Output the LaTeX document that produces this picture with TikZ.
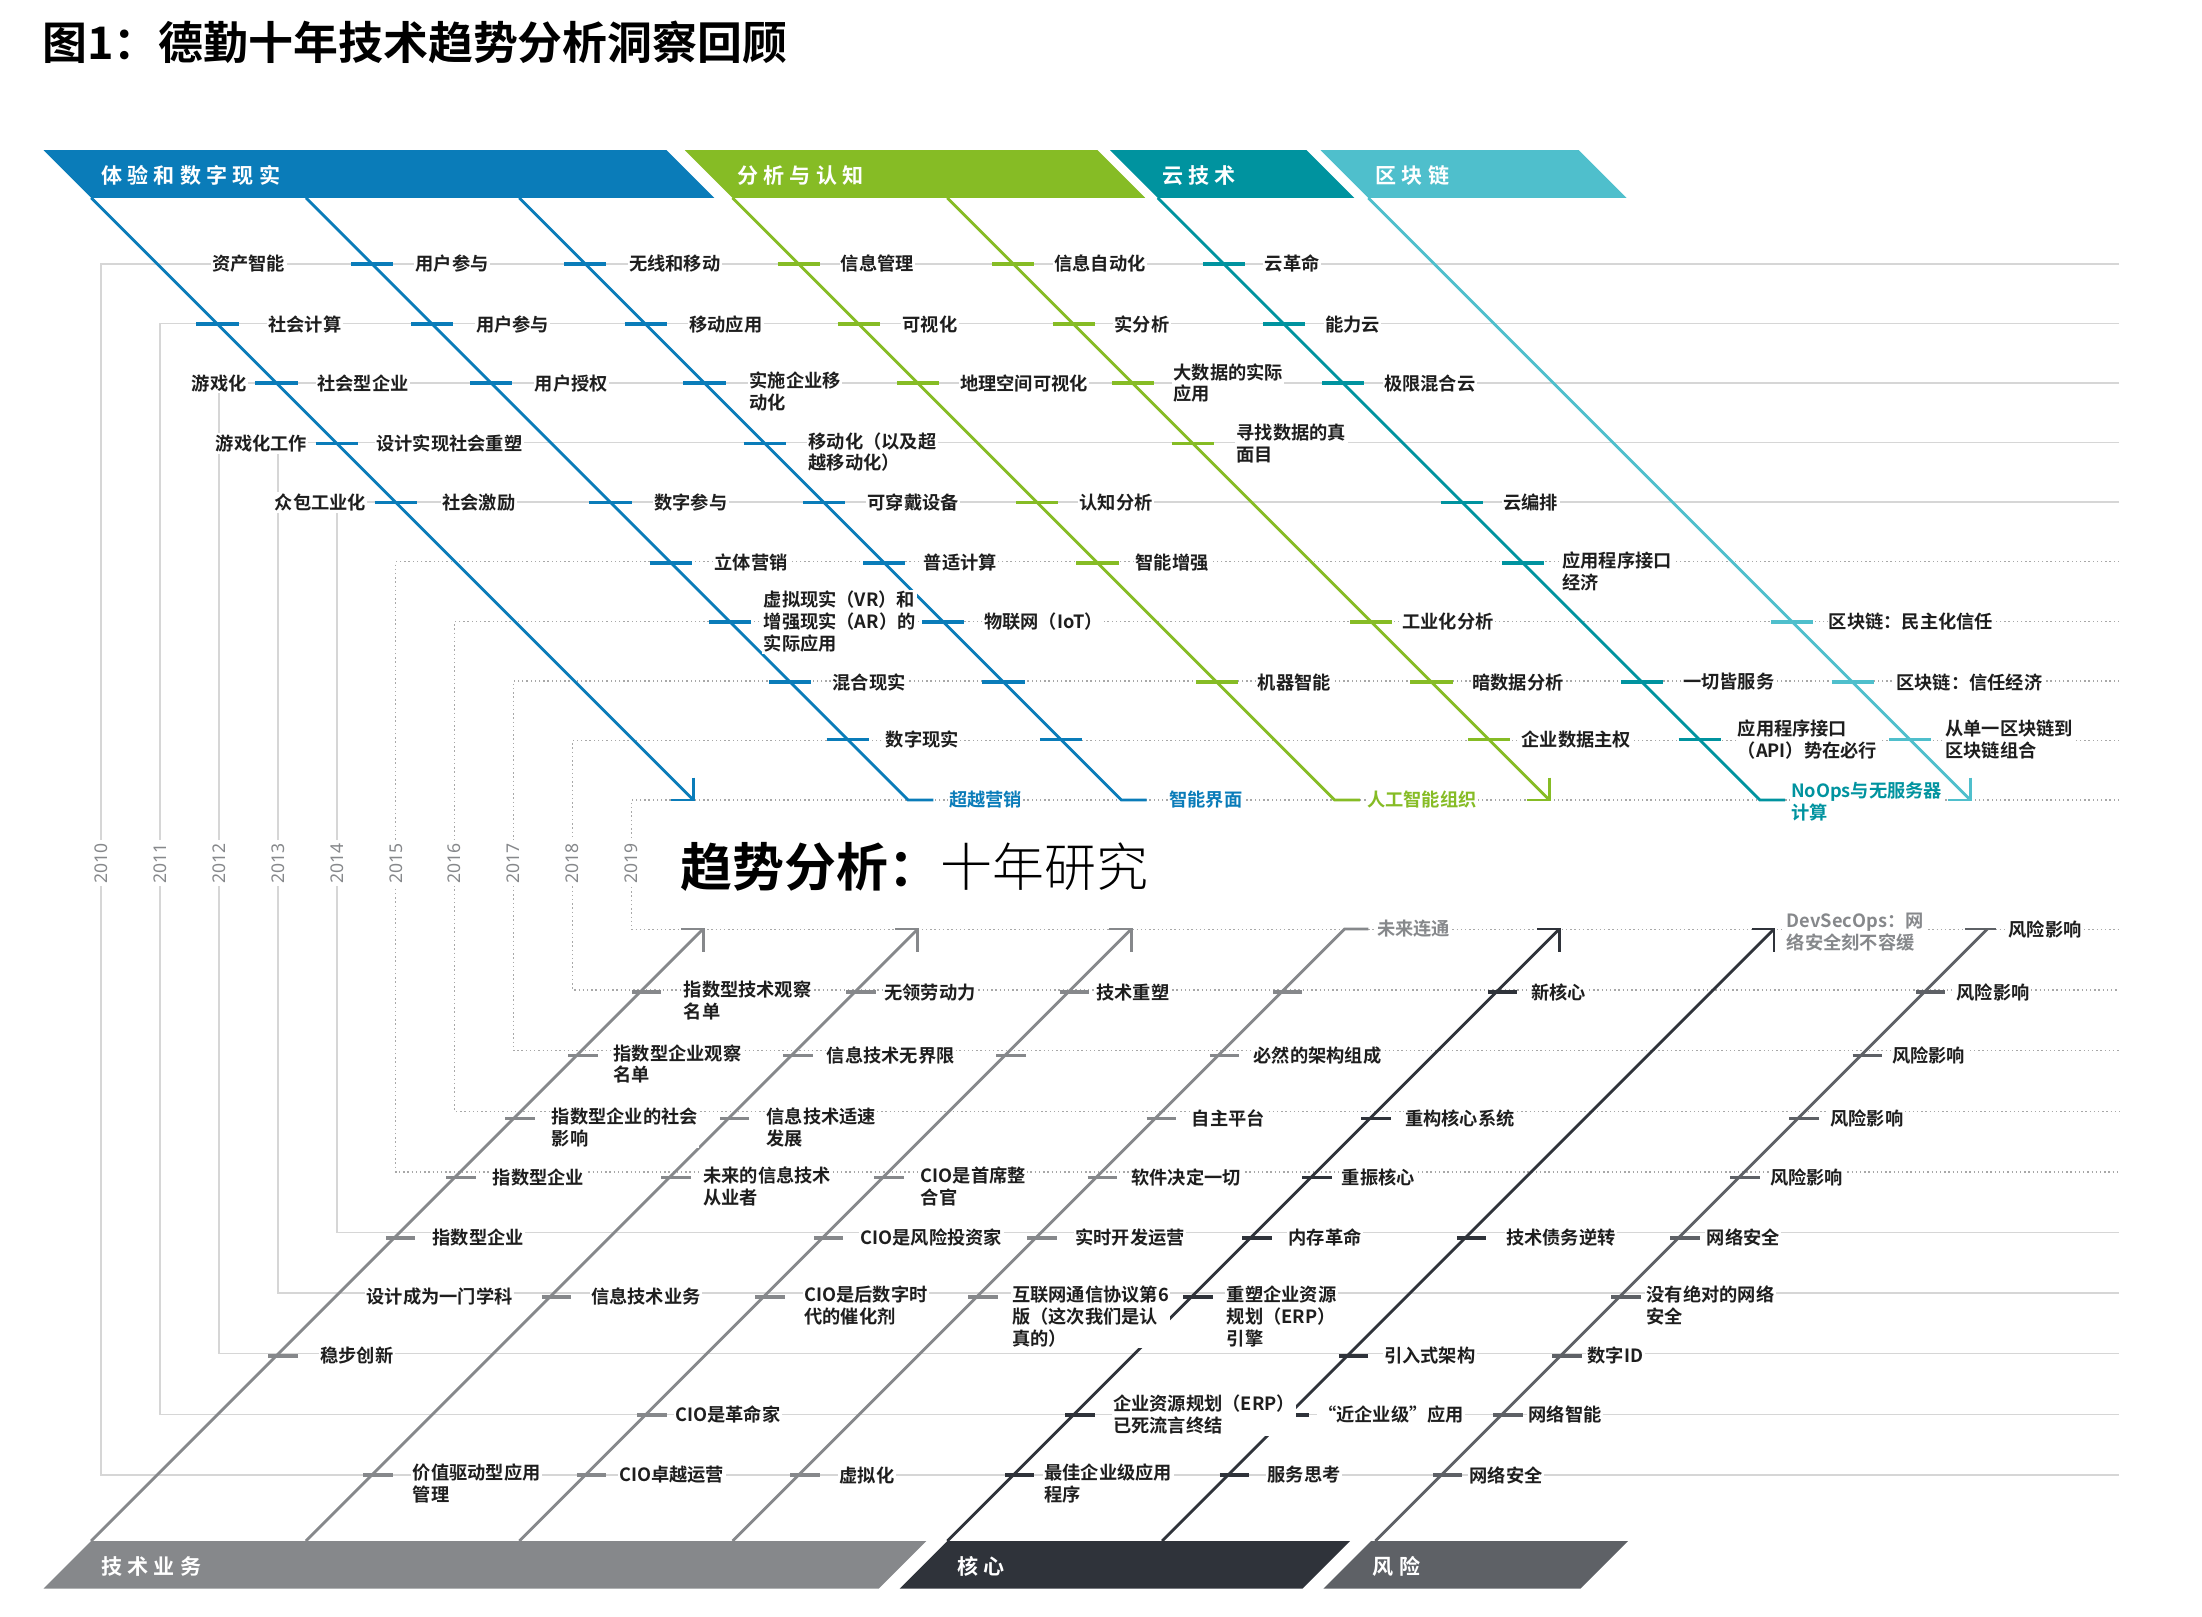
\documentclass[tikz,border=0pt]{standalone}
\usepackage{fontspec}
\IfFontExistsTF{Noto Sans CJK SC Bold}{%
\setmainfont{Noto Sans CJK SC}[BoldFont={Noto Sans CJK SC Bold}]}{%
\setmainfont{Noto Sans CJK SC}[BoldFeatures={FakeBold=2}]}
\IfFontExistsTF{Noto Sans CJK SC Light}{\newfontfamily\lightf{Noto Sans CJK SC Light}}{\newfontfamily\lightf{Noto Sans CJK SC}}
\newfontfamily\yrf{Noto Sans}
\definecolor{cb}{HTML}{0A7CB9}
\definecolor{cg}{HTML}{86BC25}
\definecolor{ct}{HTML}{00939F}
\definecolor{cl}{HTML}{4FBFCC}
\definecolor{ca}{HTML}{86888B}
\definecolor{cd}{HTML}{2F333A}
\definecolor{cr}{HTML}{5E6166}
\definecolor{labc}{HTML}{1E1E1E}
\definecolor{rowc}{HTML}{D6D6D6}
\definecolor{dotc}{HTML}{A8A8A8}
\newcounter{lc}
\newcommand\lb[4][]{\stepcounter{lc}\node[lab,#1] (l\arabic{lc}) at (#2,#3) {#4};}
\newcommand\tk[3]{\draw[tickln,#1] ({#2+#3-141-15},#3) -- ({#2+#3-141+15},#3);}
\newcommand\tl[3]{\draw[tickln,#1] ({#2+1098-#3-6},#3) -- ({#2+1098-#3+15},#3);}
\begin{document}
\begin{tikzpicture}[x=1pt,y=-1pt,
  lab/.style={font=\fontsize{13}{15.5}\selectfont\bfseries, text=labc, anchor=west, inner sep=1pt, fill=white, align=left},
  fl/.style={anchor=north west, yshift=9pt},
  tickln/.style={line width=2.6pt},
  diag/.style={line width=2pt},
  rowl/.style={draw=rowc, line width=1pt},
  rowd/.style={draw=dotc, line width=1pt, dotted},
  yr/.style={font=\yrf\fontsize{12.5}{13}\selectfont, text=ca, rotate=90, fill=white, inner sep=2pt},
  bann/.style={font=\fontsize{15}{16}\selectfont\bfseries\addfontfeature{LetterSpace=25}, text=white, anchor=west, inner sep=0pt}]
\useasboundingbox (0,0) rectangle (1569,1152);
% title
\node[anchor=west, inner sep=0pt, font=\fontsize{32}{35}\selectfont\bfseries] (title) at (30,30) {图1：德勤十年技术趋势分析洞察回顾};
% year frames
\foreach \i in {0,...,9}{
  \pgfmathsetmacro\xx{72+42*\i}
  \pgfmathsetmacro\yu{188+42.45*\i}
  \pgfmathsetmacro\yl{1051-43.2*\i}
  \ifnum\i<5
    \draw[rowl] (1510,\yu) -- (\xx,\yu) -- (\xx,\yl) -- (1510,\yl);
  \else
    \draw[rowd] (1510,\yu) -- (\xx,\yu) -- (\xx,\yl) -- (1510,\yl);
  \fi
  \pgfmathtruncatemacro\yy{2010+\i}
  \node[yr] (y\yy) at (\xx,615) {\yy};
}
% upper banners
\fill[cb] (31,107) -- (475,107) -- (509,141) -- (65,141) -- cycle;
\fill[cg] (488,107) -- (782,107) -- (816,141) -- (522,141) -- cycle;
\fill[ct] (791,107) -- (931,107) -- (965,141) -- (825,141) -- cycle;
\fill[cl] (941,107) -- (1125,107) -- (1159,141) -- (975,141) -- cycle;
\node[bann] (b1) at (72,125) {体验和数字现实};
\node[bann] (b2) at (525,125) {分析与认知};
\node[bann] (b3) at (828,125) {云技术};
\node[bann] (b4) at (980,125) {区块链};
% lower banners
\fill[ca] (31,1132) -- (65,1098) -- (660,1098) -- (626,1132) -- cycle;
\fill[cd] (641,1132) -- (675,1098) -- (962,1098) -- (928,1132) -- cycle;
\fill[cr] (943,1132) -- (977,1098) -- (1160,1098) -- (1126,1132) -- cycle;
\node[bann] (b5) at (72,1116) {技术业务};
\node[bann] (b6) at (682,1116) {核心};
\node[bann] (b7) at (978,1116) {风险};
% upper diagonals
\draw[diag,cb] (65,141) -- (494,570);
\draw[diag,cb] (494,554) -- (494,570) -- (478,570);
\draw[diag,cb] (218,141) -- (647,570) -- (665,570);
\draw[diag,cb] (370,141) -- (799,570) -- (817,570);
\draw[diag,cg] (522,141) -- (951,570) -- (969,570);
\draw[diag,cg] (675,141) -- (1104,570);
\draw[diag,cg] (1104,554) -- (1104,570) -- (1088,570);
\draw[diag,ct] (825,141) -- (1254,570) -- (1272,570);
\draw[diag,cl] (975,141) -- (1404,570);
\draw[diag,cl] (1404,554) -- (1404,570) -- (1388,570);
% lower diagonals
\draw[diag,ca] (65,1098) -- (501,662);
\draw[diag,ca] (501,678) -- (501,662) -- (485,662);
\draw[diag,ca] (218,1098) -- (654,662);
\draw[diag,ca] (654,678) -- (654,662) -- (638,662);
\draw[diag,ca] (370,1098) -- (806,662);
\draw[diag,ca] (806,678) -- (806,662) -- (790,662);
\draw[diag,ca] (522,1098) -- (958,662) -- (975,662);
\draw[diag,cd] (675,1098) -- (1111,662);
\draw[diag,cd] (1111,678) -- (1111,662) -- (1095,662);
\draw[diag,cd] (828,1098) -- (1264,662);
\draw[diag,cd] (1264,678) -- (1264,662) -- (1248,662);
\draw[diag,cr] (980,1098) -- (1416,662);
\draw[diag,cr] (1400,662) -- (1422,662);
% upper ticks
\foreach \s in {218,370}{\tk{cb}{\s}{188}} \tk{cg}{522}{188}\tk{cg}{675}{188}\tk{ct}{825}{188}
\foreach \s in {65,218,370}{\tk{cb}{\s}{231}} \tk{cg}{522}{231}\tk{cg}{675}{231}\tk{ct}{825}{231}
\foreach \s in {65,218,370}{\tk{cb}{\s}{273}} \tk{cg}{522}{273}\tk{cg}{675}{273}\tk{ct}{825}{273}
\tk{cb}{65}{316}\tk{cb}{370}{316}\tk{cg}{675}{316}
\foreach \s in {65,218,370}{\tk{cb}{\s}{358}} \tk{cg}{522}{358}\tk{ct}{825}{358}
\tk{cb}{218}{401}\tk{cb}{370}{401}\tk{cg}{522}{401}\tk{ct}{825}{401}
\tk{cb}{218}{443}\tk{cb}{370}{443}\tk{cg}{675}{443}\tk{cl}{975}{443}
\tk{cb}{218}{486}\tk{cb}{370}{486}\tk{cg}{522}{486}\tk{cg}{675}{486}\tk{ct}{825}{486}\tk{cl}{975}{486}
\tk{cb}{218}{527}\tk{cb}{370}{527}\tk{cg}{675}{527}\tk{ct}{825}{527}\tk{cl}{975}{527}
% lower ticks
\tl{ca}{65}{707}\tl{ca}{218}{707}\tl{ca}{370}{707}\tl{ca}{522}{707}\tl{cd}{675}{707}\tl{cr}{980}{707}
\tl{ca}{65}{752}\tl{ca}{218}{752}\tl{ca}{370}{752}\tl{ca}{522}{752}\tl{cr}{980}{752}
\tl{ca}{65}{797}\tl{ca}{218}{797}\tl{ca}{522}{797}\tl{cd}{675}{797}\tl{cr}{980}{797}
\tl{ca}{65}{839}\tl{ca}{218}{839}\tl{ca}{370}{839}\tl{ca}{522}{839}\tl{cd}{675}{839}\tl{cr}{980}{839}
\tl{ca}{65}{882}\tl{ca}{370}{882}\tl{ca}{522}{882}\tl{cd}{675}{882}\tl{cd}{828}{882}\tl{cr}{980}{882}
\tl{ca}{218}{924}\tl{ca}{370}{924}\tl{ca}{522}{924}\tl{cd}{675}{924}\tl{cr}{980}{924}
\tl{ca}{65}{966}\tl{cd}{828}{966}\tl{cr}{980}{966}
\tl{ca}{370}{1008}\tl{cd}{675}{1008}\tl{cd}{828}{1008}\tl{cr}{980}{1008}
\tl{ca}{218}{1051}\tl{ca}{370}{1051}\tl{ca}{522}{1051}\tl{cd}{675}{1051}\tl{cd}{828}{1051}\tl{cr}{980}{1051}
% upper labels
\lb{150}{188}{资产智能}\lb{295}{188}{用户参与}\lb{447}{188}{无线和移动}\lb{598}{188}{信息管理}\lb{750}{188}{信息自动化}\lb{900}{188}{云革命}
\lb{190}{231}{社会计算}\lb{338}{231}{用户参与}\lb{490}{231}{移动应用}\lb{642}{231}{可视化}\lb{793}{231}{实分析}\lb{943}{231}{能力云}
\lb[anchor=east]{177}{273}{游戏化}\lb{225}{273}{社会型企业}\lb{380}{273}{用户授权}\lb[fl]{533}{273}{实施企业移\\动化}\lb{683}{273}{地理空间可视化}\lb{835}{273}{大数据的实际\\应用}\lb{985}{273}{极限混合云}
\lb[anchor=east]{220}{316}{游戏化工作}\lb{267}{316}{设计实现社会重塑}\lb[fl]{575}{316}{移动化（以及超\\越移动化）}\lb{880}{316}{寻找数据的真\\面目}
\lb[anchor=east]{262}{358}{众包工业化}\lb{314}{358}{社会激励}\lb{465}{358}{数字参与}\lb{617}{358}{可穿戴设备}\lb{768}{358}{认知分析}\lb{1070}{358}{云编排}
\lb{508}{401}{立体营销}\lb{657}{401}{普适计算}\lb{808}{401}{智能增强}\lb[fl]{1112}{401}{应用程序接口\\经济}
\lb{543}{443}{虚拟现实（VR）和\\增强现实（AR）的\\实际应用}\lb{700}{443}{物联网（IoT）}\lb{998}{443}{工业化分析}\lb{1302}{443}{区块链：民主化信任}
\lb{592}{486}{混合现实}\lb{895}{486}{机器智能}\lb{1048}{486}{暗数据分析}\lb{1198}{486}{一切皆服务}\lb{1350}{486}{区块链：信任经济}
\lb{630}{527}{数字现实}\lb{1083}{527}{企业数据主权}\lb{1237}{527}{应用程序接口\\（API）势在必行}\lb{1385}{527}{从单一区块链到\\区块链组合}
\lb[text=cb]{675}{570}{超越营销}\lb[text=cb]{832}{570}{智能界面}\lb[text=cg]{973}{570}{人工智能组织}\lb[text=ct]{1275}{571}{NoOps与无服务器\\计算}
% middle title
\node[anchor=west, inner sep=0pt, font=\fontsize{37}{40}\selectfont] (mid) at (485,618) {\textbf{趋势分析：}{\lightf 十年研究}};
% lower labels
\lb[text=ca]{980}{662}{未来连通}\lb[text=ca]{1272}{664}{DevSecOps：网\\络安全刻不容缓}\lb{1430}{662}{风险影响}
\lb[fl]{486}{707}{指数型技术观察\\名单}\lb{629}{707}{无领劳动力}\lb{780}{707}{技术重塑}\lb{1090}{707}{新核心}\lb{1393}{707}{风险影响}
\lb[fl]{436}{752}{指数型企业观察\\名单}\lb{588}{752}{信息技术无界限}\lb{892}{752}{必然的架构组成}\lb{1347}{752}{风险影响}
\lb[fl]{392}{797}{指数型企业的社会\\影响}\lb[fl]{545}{797}{信息技术适速\\发展}\lb{848}{797}{自主平台}\lb{1000}{797}{重构核心系统}\lb{1303}{797}{风险影响}
\lb{350}{839}{指数型企业}\lb[fl]{500}{839}{未来的信息技术\\从业者}\lb[fl]{655}{839}{CIO是首席整\\合官}\lb{805}{839}{软件决定一切}\lb{955}{839}{重振核心}\lb{1260}{839}{风险影响}
\lb{307}{882}{指数型企业}\lb{612}{882}{CIO是风险投资家}\lb{765}{882}{实时开发运营}\lb{917}{882}{内存革命}\lb{1072}{882}{技术债务逆转}\lb{1215}{882}{网络安全}
\lb{260}{924}{设计成为一门学科}\lb{420}{924}{信息技术业务}\lb[fl]{572}{924}{CIO是后数字时\\代的催化剂}\lb[fl]{720}{924}{互联网通信协议第6\\版（这次我们是认\\真的）}\lb[fl]{873}{924}{重塑企业资源\\规划（ERP）\\引擎}\lb[fl]{1172}{924}{没有绝对的网络\\安全}
\lb{227}{966}{稳步创新}\lb{985}{966}{引入式架构}\lb{1130}{966}{数字ID}
\lb{480}{1008}{CIO是革命家}\lb{792}{1008}{企业资源规划（ERP）\\已死流言终结}\lb{938}{1008}{“近企业级”应用}\lb{1088}{1008}{网络智能}
\lb[fl]{293}{1051}{价值驱动型应用\\管理}\lb{440}{1051}{CIO卓越运营}\lb{597}{1051}{虚拟化}\lb[fl]{743}{1051}{最佳企业级应用\\程序}\lb{902}{1051}{服务思考}\lb{1046}{1051}{网络安全}
\end{tikzpicture}
\end{document}
